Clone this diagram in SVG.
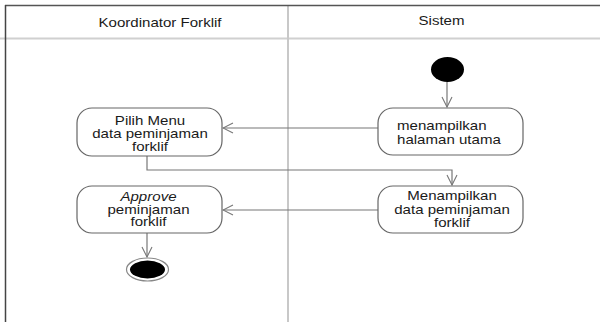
<svg xmlns="http://www.w3.org/2000/svg" width="600" height="322" viewBox="0 0 600 322">
  <style>
    .lbl { font-family: "Liberation Sans", Arial, sans-serif; font-size: 13px; fill: #1a1a1a; }
    .mid { text-anchor: middle; }
    .act { fill: #fff; stroke: #666; stroke-width: 1.2; }
    .flow { fill: none; stroke: #777; stroke-width: 1.2; }
  </style>
  <defs>
    <marker id="open" markerWidth="12" markerHeight="12" refX="11" refY="6" orient="auto" markerUnits="userSpaceOnUse">
      <path d="M1,1 L11,6 L1,11" fill="none" stroke="#777" stroke-width="1.1"/>
    </marker>
  </defs>
  <rect width="600" height="322" fill="#fff"/>

  <!-- swimlane frame -->
  <g id="lanes">
    <line x1="0" y1="38.5" x2="600" y2="38.5" stroke="#d0d0d0" stroke-width="2"/>
    <line x1="288" y1="5" x2="288" y2="322" stroke="#c8c8c8" stroke-width="2"/>
    <line x1="5" y1="5.5" x2="600" y2="5.5" stroke="#555" stroke-width="1.5"/>
    <line x1="5.5" y1="5" x2="5.5" y2="322" stroke="#444" stroke-width="1.5"/>
    <g transform="translate(160,0) scale(1.16,1)">
      <text class="lbl mid" x="0" y="27">Koordinator Forklif</text>
    </g>
    <g transform="translate(441.5,0) scale(1.16,1)">
      <text class="lbl mid" x="0" y="25">Sistem</text>
    </g>
  </g>

  <!-- connectors -->
  <g id="connectors">
    <line class="flow" x1="447" y1="82" x2="447" y2="107" marker-end="url(#open)"/>
    <line class="flow" x1="378" y1="128" x2="223" y2="128" marker-end="url(#open)"/>
    <polyline class="flow" points="147,156 147,170 452,170 452,185" marker-end="url(#open)"/>
    <line class="flow" x1="378" y1="210" x2="223" y2="210" marker-end="url(#open)"/>
    <line class="flow" x1="147" y1="233" x2="147" y2="257" marker-end="url(#open)"/>
  </g>

  <g id="start">
    <ellipse cx="447.5" cy="69.5" rx="16.5" ry="12.5" fill="#000"/>
  </g>

  <g id="menampilkan-halaman-utama">
    <rect class="act" x="378" y="108" width="145" height="47" rx="15"/>
    <g transform="translate(397,0) scale(1.16,1)">
      <text class="lbl" x="0" y="130.5">menampilkan</text>
      <text class="lbl" x="0" y="144">halaman utama</text>
    </g>
  </g>

  <g id="pilih-menu">
    <rect class="act" x="77" y="108" width="145" height="48" rx="15"/>
    <g transform="translate(150,0) scale(1.16,1)">
      <text class="lbl mid" x="0" y="125.5">Pilih Menu</text>
      <text class="lbl mid" x="0" y="138.5">data peminjaman</text>
      <text class="lbl mid" x="0" y="151.5">forklif</text>
    </g>
  </g>

  <g id="menampilkan-data">
    <rect class="act" x="378" y="186" width="145" height="47" rx="15"/>
    <g transform="translate(452,0) scale(1.16,1)">
      <text class="lbl mid" x="0" y="200.5">Menampilkan</text>
      <text class="lbl mid" x="0" y="214">data peminjaman</text>
      <text class="lbl mid" x="0" y="227">forklif</text>
    </g>
  </g>

  <g id="approve">
    <rect class="act" x="77" y="186" width="145" height="47" rx="15"/>
    <g transform="translate(148.5,0) scale(1.16,1)">
      <text class="lbl mid" x="0" y="201.5" font-style="italic">Approve</text>
      <text class="lbl mid" x="0" y="214">peminjaman</text>
      <text class="lbl mid" x="0" y="226.5">forklif</text>
    </g>
  </g>

  <g id="end">
    <ellipse cx="147.5" cy="269.5" rx="21" ry="11.5" fill="#fff" stroke="#888" stroke-width="1.2"/>
    <ellipse cx="147.5" cy="269.5" rx="17.5" ry="9" fill="#000"/>
  </g>
</svg>
